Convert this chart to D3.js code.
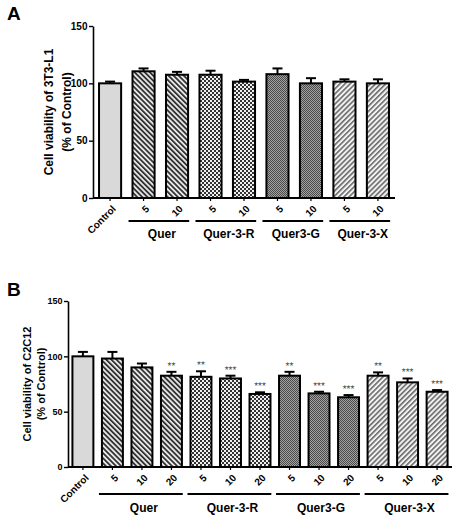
<!DOCTYPE html>
<html>
<head>
<meta charset="utf-8">
<script src="https://cdn.jsdelivr.net/npm/d3@7/dist/d3.min.js"></script>
<style>
html,body{margin:0;padding:0;background:#fff;}
svg{display:block;font-family:"Liberation Sans",Arial,sans-serif;}
</style>
</head>
<body>
<svg id="chart" width="463" height="518"></svg>
<script>
// ---------- DATA ----------
const yTicks = [0, 50, 100, 150];

const dosesA  = ["Control","5","10","5","10","5","10","5","10"];
const groupOfA = ["Control","Quer","Quer","Quer-3-R","Quer-3-R","Quer3-G","Quer3-G","Quer-3-X","Quer-3-X"];
const valuesA = [100, 110.5, 107.5, 107.5, 101.5, 108, 100, 101.5, 100];
const errorsA = [1.5, 2.5, 2.5, 3.5, 1.5, 5, 4.5, 2, 3.5];

const dosesB  = ["Control","5","10","20","5","10","20","5","10","20","5","10","20"];
const groupOfB = ["Control","Quer","Quer","Quer","Quer-3-R","Quer-3-R","Quer-3-R","Quer3-G","Quer3-G","Quer3-G","Quer-3-X","Quer-3-X","Quer-3-X"];
const valuesB = [100, 98, 90, 82.5, 81.5, 80, 66, 82.5, 66.5, 63, 82.5, 76.5, 68];
const errorsB = [4, 6, 3.5, 3.5, 5, 2.5, 1.5, 3.5, 1.5, 2, 3, 3.5, 1.5];
const sigB    = ["","","","**","**","***","***","**","***","***","**","***","***"];

const groupNames = ["Quer","Quer-3-R","Quer3-G","Quer-3-X"];
const titleA = ["Cell viability of 3T3-L1","(% of Control)"];
const titleB = ["Cell viability of C2C12","(% of Control)"];

// ---------- PATTERNS ----------
const svg = d3.select("#chart");
const defs = svg.append("defs");
function stripe(id, rot, bg, fg, w) {
  const p = defs.append("pattern").attr("id", id).attr("patternUnits","userSpaceOnUse")
    .attr("width", 3.6).attr("height", 3.6).attr("patternTransform", `rotate(${rot})`);
  p.append("rect").attr("width",3.6).attr("height",3.6).attr("fill",bg);
  p.append("rect").attr("width",w).attr("height",3.6).attr("fill",fg);
}
stripe("pQuer", -45, "#e6e6e6", "#2a2a2a", 1.7);
stripe("pX", 45, "#f2f2f2", "#6a6a6a", 1.6);
(function(){
  const p = defs.append("pattern").attr("id","pR").attr("patternUnits","userSpaceOnUse").attr("width",4).attr("height",4);
  p.append("rect").attr("width",4).attr("height",4).attr("fill","#f0f0f0");
  p.append("rect").attr("width",2).attr("height",2).attr("fill","#333");
  p.append("rect").attr("x",2).attr("y",2).attr("width",2).attr("height",2).attr("fill","#333");
  const q = defs.append("pattern").attr("id","pG").attr("patternUnits","userSpaceOnUse").attr("width",2).attr("height",2);
  q.append("rect").attr("width",2).attr("height",2).attr("fill","#a2a2a2");
  q.append("rect").attr("width",1).attr("height",1).attr("fill","#4a4a4a");
  q.append("rect").attr("x",1).attr("y",1).attr("width",1).attr("height",1).attr("fill","#4a4a4a");
})();
const fillOf = {"Control":"#d9d9d9","Quer":"url(#pQuer)","Quer-3-R":"url(#pR)","Quer3-G":"url(#pG)","Quer-3-X":"url(#pX)"};

// ---------- PANEL ----------
function panel(cfg) {
  const n = cfg.values.length;
  const idx = d3.range(n);
  const x = d3.scaleBand().domain(idx).range([cfg.x0, cfg.x1]).paddingInner(cfg.pi).paddingOuter(cfg.po);
  const y = d3.scaleLinear().domain([0,150]).range([cfg.yBot, cfg.yTop]);
  const g = svg.append("g");

  // letter
  g.append("text").attr("x", 7).attr("y", cfg.letterY).attr("font-size", 19).attr("font-weight","bold").text(cfg.letter);

  // y axis
  const ya = g.append("g").attr("transform",`translate(${cfg.x0},0)`)
    .call(d3.axisLeft(y).tickValues(yTicks).tickSize(4).tickSizeOuter(0).tickPadding(1.5));
  ya.select(".domain").attr("stroke","#000").attr("stroke-width",1.6);
  ya.selectAll(".tick line").attr("stroke","#000").attr("stroke-width",1.4);
  ya.selectAll(".tick text").attr("font-size",cfg.tickSize).attr("font-weight","bold").attr("fill","#000")
    .attr("font-family","Liberation Sans, Arial, sans-serif");

  // y title
  cfg.title.forEach((t,i) => {
    g.append("text").attr("transform",`translate(${cfg.titleX[i]},${(cfg.yTop+cfg.yBot)/2}) rotate(-90)`)
      .attr("text-anchor","middle").attr("font-size",cfg.titleSize).attr("font-weight","bold").text(t);
  });

  // bars
  g.selectAll("rect.bar").data(idx).enter().append("rect").attr("class","bar")
    .attr("x", i => x(i)).attr("width", x.bandwidth())
    .attr("y", i => y(cfg.values[i])).attr("height", i => y(0) - y(cfg.values[i]))
    .attr("fill", i => fillOf[cfg.groups[i]]).attr("stroke","#000").attr("stroke-width",2);

  // error bars
  const cw = 10;
  idx.forEach(i => {
    const cx = x(i) + x.bandwidth()/2;
    const yt = y(cfg.values[i] + cfg.errors[i]);
    g.append("line").attr("x1",cx).attr("x2",cx).attr("y1",y(cfg.values[i])).attr("y2",yt)
      .attr("stroke","#000").attr("stroke-width",2);
    g.append("line").attr("x1",cx-cw/2).attr("x2",cx+cw/2).attr("y1",yt).attr("y2",yt)
      .attr("stroke","#000").attr("stroke-width",2);
    if (cfg.sig && cfg.sig[i]) {
      g.append("text").attr("x",cx).attr("y",yt-3).attr("text-anchor","middle")
        .attr("font-size",10).attr("fill","#444").style("text-rendering","geometricPrecision")
        .text(cfg.sig[i]);
    }
  });

  // x axis
  g.append("line").attr("x1",cfg.x0).attr("x2",cfg.x1).attr("y1",cfg.yBot).attr("y2",cfg.yBot)
    .attr("stroke","#000").attr("stroke-width",1.8);
  idx.forEach(i => {
    const cx = x(i) + x.bandwidth()/2;
    g.append("line").attr("x1",cx).attr("x2",cx).attr("y1",cfg.yBot).attr("y2",cfg.yBot+3)
      .attr("stroke","#000").attr("stroke-width",1.2);
    g.append("text").attr("transform",`translate(${cx+4},${cfg.yBot+9}) rotate(-45)`)
      .attr("text-anchor","end").attr("dy","0.35em").attr("font-size",10).attr("font-weight","bold")
      .text(cfg.doses[i]);
  });

  // group lines and labels
  groupNames.forEach(gn => {
    const members = idx.filter(i => cfg.groups[i] === gn);
    const a = x(members[0]) - x.step()*cfg.pi*0.35;
    const b = x(members[members.length-1]) + x.bandwidth() + x.step()*cfg.pi*0.1;
    g.append("line").attr("x1",a).attr("x2",b).attr("y1",cfg.lineY).attr("y2",cfg.lineY)
      .attr("stroke","#000").attr("stroke-width",2);
    g.append("text").attr("x",(a+b)/2 + 3).attr("y",cfg.labelY).attr("text-anchor","middle")
      .attr("font-size",12).attr("font-weight","bold").text(gn);
  });
}

panel({letter:"A", letterY:20, x0:93, x1:395, yTop:26, yBot:198, pi:0.34, po:0.18,
  values:valuesA, errors:errorsA, doses:dosesA, groups:groupOfA, sig:null, tickSize:10,
  title:titleA, titleX:[53,71], titleSize:12, lineY:221, labelY:238});
panel({letter:"B", letterY:296, x0:68, x1:452, yTop:301, yBot:467, pi:0.29, po:0.15,
  values:valuesB, errors:errorsB, doses:dosesB, groups:groupOfB, sig:sigB, tickSize:9,
  title:titleB, titleX:[31,45], titleSize:11, lineY:494, labelY:512});
</script>
</body>
</html>
